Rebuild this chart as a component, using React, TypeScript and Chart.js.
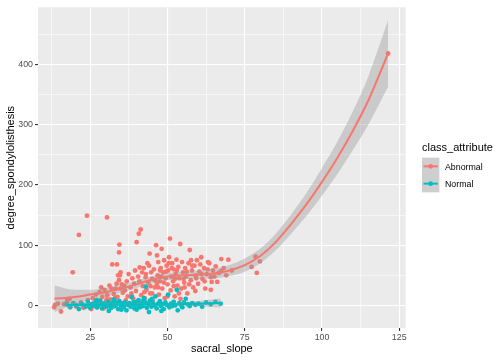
import React, { useEffect, useRef } from 'react';
import { Chart, registerables } from 'chart.js';
Chart.register(...registerables);

// sacral_slope, degree_spondylolisthesis
const abnormalPoints: [number, number][] = [
  [13.3, -3], [13.6, 1], [14.5, 3], [15.5, -10], [16.5, 2], [17.5, 8], [18.3, 11], [19.3, 55], [20.5, -2], [21.3, 117],
  [22, 5], [22.8, -4], [23.9, 149], [24.2, 9], [24.8, 2], [25.3, -6],
  [25.8, 12], [26.2, 4], [26.8, 18], [27.3, -3], [27.6, 8], [28, 22], [28.4, 3], [28.9, 14], [29.3, -5], [29.6, 26],
  [30, 6], [30.4, 146], [30.5, 17], [30.9, 2], [31.2, 33], [31.5, 10], [31.9, 28], [32.1, 68], [32.3, -2], [32.6, 19],
  [32.9, 7], [33.2, 28], [33.5, 36], [33.6, 68], [33.8, 14], [34, 50], [34.3, 88], [34.4, 101], [34.3, 42], [34.6, 50],
  [34.8, 28], [34.8, 55], [35.2, 35], [35.2, 4], [35.5, 21],
  [36.2, 25], [36.5, 9], [36.8, 40], [37.1, 15], [37.4, 52], [37.7, 3], [38, 30], [38.3, 20], [38.6, 45], [38.9, 11],
  [39.2, 36], [39.5, 58], [39.8, 24], [40, 105], [40.3, 6], [40.7, 119], [40.9, 40], [41.3, 126], [41.5, 17], [41.8, 55],
  [42, 32], [42.3, 62], [42.6, 12], [42.9, 47], [43.2, 26], [43.5, 70], [43.8, 38], [44.2, 86], [44.4, 20], [44.7, 55],
  [45, 44], [45.2, 8],
  [45.6, 60], [45.9, 30], [46.3, 100], [46.6, 83], [46.8, 50], [47, 72], [47.2, 18], [47.5, 40], [47.8, 62], [48.1, 94],
  [48.3, 28], [48.6, 55], [48.9, 75], [49.1, 12], [49.4, 45], [49.7, 66], [50, 35], [50.2, 58], [50.5, 80], [50.8, 111],
  [51, 25], [51.2, 48], [51.5, 70], [51.8, 40], [52, 60], [52.3, 15], [52.6, 52], [52.9, 76], [53.2, 33], [53.5, 64],
  [53.8, 45], [54.1, 102], [54.2, 11], [54.4, 28], [54.7, 72], [55, 55],
  [55.4, 38], [55.7, 62], [56, 48], [56.4, 20], [56.8, 70], [57.2, 92], [57.5, 42], [57.9, 58], [58.3, 30], [58.7, 66],
  [59.1, 50], [59.5, 75], [59.9, 36], [60.3, 56], [60.9, 80], [61.3, 44], [61.8, 62], [62.2, 28], [62.7, 52], [63.1, 72],
  [63.5, 70], [64, 26], [64.3, 39], [64.7, 58], [65.2, 48], [65.6, 65], [66.1, 39], [66.6, 54], [67.4, 57], [67.4, 77],
  [68.2, 62], [69, 50], [69.7, 76], [70.8, 58],
  [77.2, 64], [78.5, 81], [78.9, 54], [79.9, 73], [121.4, 418],
  [40.5, 48], [41, 63], [43, 52], [44, 66], [46, 42], [46.5, 36], [47.6, 58], [48, 48], [48.8, 38], [49.5, 56],
  [50.4, 70], [51.4, 62], [52.4, 44], [53, 58], [53.7, 20], [55.2, 44], [56.2, 56], [57, 35], [58, 66], [59.3, 45],
  [60.6, 68], [61, 52], [62, 40], [63, 60], [64, 47], [45, 20], [38.5, 15], [36, 33], [33, 12], [30.3, 10],
  [28.5, 30], [26.5, 0], [42.5, 22], [50, 15], [55.5, 30], [59, 24], [44.5, 32], [47, 30], [52, 32], [57.6, 75],
];

const normalPoints: [number, number][] = [
  [17.4, 2], [18.5, -3], [19.5, 4], [20.5, 0], [21.3, -6], [22, 3], [22.8, 1], [23.5, -2], [24.2, 6], [24.9, -4],
  [25.5, 2], [26, -1], [26.6, 5], [27.1, -3], [27.7, 1], [28.2, 8], [28.8, -5], [29.3, 3], [29.8, 0], [30.3, -2],
  [30.8, 6], [31.3, 1], [31.8, -4], [32.2, 4], [32.7, 10], [33.1, -1], [33.6, 2], [34, -6], [34.4, 7], [34.9, 0],
  [35.3, 3], [35.8, -3], [36.2, 5], [36.7, -8], [37.1, 1], [37.6, 4], [38, -2], [38.4, 14], [38.9, 2], [39.3, -5],
  [39.8, 6], [40.2, 0], [40.6, 9], [41.1, -3], [41.5, 3], [42, -1], [42.4, 12], [42.9, 5], [43, 31], [43.3, -4],
  [43.8, 2], [44, -11], [44.3, 8], [44.8, -2], [45.2, 4], [45.7, 0], [46.1, 15], [46.5, -5], [47, 3], [47.5, 7],
  [47.9, -1], [48.4, 2], [48.8, -6], [49.3, 5], [49.7, 1], [50.2, 18], [50.6, -3], [51.1, 3], [51.5, -1], [52, 6],
  [52.5, 0], [53, 26], [53.3, -8], [53.8, 4], [54.3, 1], [54.8, -3], [55.3, 5], [55.9, 11], [56.5, 2], [57.2, -1],
  [58, 4], [59, 1], [60, 3], [61.2, -2], [62.5, 5], [64, 2], [65.5, 6], [67.2, 3], [31, -9], [35, -7],
  [27, 9], [40, -7], [45, 11], [48, -9], [39, 5], [33, 5], [42, 7], [36, 1], [29, 2], [46, 1],
];

// loess smooth
const abnormalSmoothX = [13.4, 20, 25, 30, 35, 40, 45, 50, 55, 60, 65, 70, 75, 80, 85, 90, 95, 100, 105, 110, 115, 121.4];
const abnormalSmoothY = [11, 14, 18, 22, 28, 35, 43, 48, 50, 51, 53, 58, 67, 82, 105, 135, 168, 205, 245, 290, 340, 418];
const abnormalSmoothSE = [22, 12, 8, 7, 6, 6, 6, 6, 6, 7, 8, 9, 11, 12, 14, 16, 19, 23, 27, 32, 40, 55];

const normalSmoothX = [17.4, 20, 25, 30, 35, 40, 45, 50, 55, 60, 67.2];
const normalSmoothY = [0.5, 0.8, 1, 1.5, 1.5, 1.6, 1.8, 2, 2.5, 3, 4];
const normalSmoothSE = [6, 4.5, 3, 2.5, 2.2, 2.2, 2.2, 2.5, 3, 4.5, 7.5];

const xMajorTicks = [25, 50, 75, 100, 125];
const xMinorTicks = [12.5, 37.5, 62.5, 87.5, 112.5];
const yMajorTicks = [0, 100, 200, 300, 400];
const yMinorTicks = [50, 150, 250, 350, 450];

const RED = '#F8766D';
const TEAL = '#00BFC4';
const BAND = 'rgba(153,153,153,0.4)';
const FONT = '"Liberation Sans", Arial, Helvetica, sans-serif';

const toXY = (xs: number[], ys: number[]) => xs.map((x, i) => ({ x, y: ys[i] }));

export default function App() {
  const ref = useRef<HTMLCanvasElement>(null);
  useEffect(() => {
    if (!ref.current) return;
    const bgPlugin = {
      id: 'ggbg',
      beforeDraw(chart: any) {
        const { ctx, chartArea: a } = chart;
        ctx.save();
        ctx.fillStyle = '#FFFFFF';
        ctx.fillRect(0, 0, chart.width, chart.height);
        ctx.fillStyle = '#EBEBEB';
        ctx.fillRect(a.left, a.top, a.right - a.left, a.bottom - a.top);
        ctx.restore();
      },
      afterDraw(chart: any) {
        const { ctx, chartArea: a } = chart;
        ctx.save();
        ctx.fillStyle = '#000000';
        ctx.font = `11px ${FONT}`;
        ctx.textAlign = 'center';
        ctx.textBaseline = 'middle';
        ctx.fillText('sacral_slope', (a.left + a.right) / 2, 349);
        ctx.save();
        ctx.translate(10.5, (a.top + a.bottom) / 2);
        ctx.rotate(-Math.PI / 2);
        ctx.fillText('degree_spondylolisthesis', 0, 0);
        ctx.restore();
        // legend
        ctx.textAlign = 'left';
        ctx.textBaseline = 'alphabetic';
        ctx.fillText('class_attribute', 422, 150.5);
        const keys = [
          { label: 'Abnormal', color: RED },
          { label: 'Normal', color: TEAL },
        ];
        const kx = 422, ky = 157.7, ks = 17.3;
        keys.forEach((k, i) => {
          const y0 = ky + i * ks;
          ctx.fillStyle = '#F2F2F2';
          ctx.fillRect(kx, y0, ks, ks);
          ctx.fillStyle = BAND;
          ctx.fillRect(kx, y0, ks, ks);
          ctx.strokeStyle = k.color;
          ctx.lineWidth = 2;
          ctx.beginPath();
          ctx.moveTo(kx + 1.5, y0 + ks / 2);
          ctx.lineTo(kx + ks - 1.5, y0 + ks / 2);
          ctx.stroke();
          ctx.fillStyle = k.color;
          ctx.beginPath();
          ctx.arc(kx + ks / 2, y0 + ks / 2, 2.3, 0, Math.PI * 2);
          ctx.fill();
          ctx.fillStyle = '#000000';
          ctx.font = `8.8px ${FONT}`;
          ctx.fillText(k.label, 445, y0 + ks / 2 + 3.2);
        });
        ctx.restore();
      },
    };

    const gridWidth = (majors: number[]) => (c: any) =>
      c.tick && majors.includes(c.tick.value) ? 1.1 : 0.55;
    const tickCol = (majors: number[]) => (c: any) =>
      c.tick && majors.includes(c.tick.value) ? '#333333' : 'rgba(0,0,0,0)';

    const chart = new Chart(ref.current, {
      type: 'scatter',
      data: {
        datasets: [
          {
            type: 'line',
            label: 'abn hi',
            data: toXY(abnormalSmoothX, abnormalSmoothY.map((v, i) => v + abnormalSmoothSE[i])),
            borderWidth: 0,
            pointRadius: 0,
            backgroundColor: BAND,
            fill: 1,
            cubicInterpolationMode: 'monotone',
            order: 5,
          },
          {
            type: 'line',
            label: 'abn lo',
            data: toXY(abnormalSmoothX, abnormalSmoothY.map((v, i) => v - abnormalSmoothSE[i])),
            borderWidth: 0,
            pointRadius: 0,
            fill: false,
            cubicInterpolationMode: 'monotone',
            order: 5,
          },
          {
            type: 'line',
            label: 'nor hi',
            data: toXY(normalSmoothX, normalSmoothY.map((v, i) => v + normalSmoothSE[i])),
            borderWidth: 0,
            pointRadius: 0,
            backgroundColor: BAND,
            fill: 3,
            cubicInterpolationMode: 'monotone',
            order: 5,
          },
          {
            type: 'line',
            label: 'nor lo',
            data: toXY(normalSmoothX, normalSmoothY.map((v, i) => v - normalSmoothSE[i])),
            borderWidth: 0,
            pointRadius: 0,
            fill: false,
            cubicInterpolationMode: 'monotone',
            order: 5,
          },
          {
            label: 'Abnormal',
            data: abnormalPoints.map(([x, y]) => ({ x, y })),
            backgroundColor: RED,
            borderWidth: 0,
            pointRadius: 2.4,
            order: 11,
          },
          {
            label: 'Normal',
            data: normalPoints.map(([x, y]) => ({ x, y })),
            backgroundColor: TEAL,
            borderWidth: 0,
            pointRadius: 2.4,
            order: 10,
          },
          {
            type: 'line',
            label: 'abn fit',
            data: toXY(abnormalSmoothX, abnormalSmoothY),
            borderColor: RED,
            borderWidth: 2,
            pointRadius: 0,
            fill: false,
            cubicInterpolationMode: 'monotone',
            order: 1,
          },
          {
            type: 'line',
            label: 'nor fit',
            data: toXY(normalSmoothX, normalSmoothY),
            borderColor: TEAL,
            borderWidth: 2,
            pointRadius: 0,
            fill: false,
            cubicInterpolationMode: 'monotone',
            order: 1,
          },
        ] as any,
      },
      options: {
        animation: false,
        responsive: false,
        devicePixelRatio: 1,
        layout: { padding: { left: 0, top: 5, right: 98.3, bottom: 0 } },
        plugins: { legend: { display: false }, tooltip: { enabled: false } },
        scales: {
          x: {
            type: 'linear',
            min: 8.07,
            max: 127.1,
            border: { display: false },
            afterFit: (s: any) => { s.height = 32; },
            afterBuildTicks: (s: any) => {
              s.ticks = [...xMajorTicks, ...xMinorTicks].sort((a, b) => a - b).map((v) => ({ value: v }));
            },
            grid: {
              color: '#FFFFFF',
              lineWidth: gridWidth(xMajorTicks),
              tickColor: tickCol(xMajorTicks),
              tickWidth: 1.1,
              tickLength: 3,
              drawTicks: true,
            },
            ticks: {
              autoSkip: false,
              maxRotation: 0,
              padding: 1.5,
              color: '#4D4D4D',
              font: { family: FONT, size: 8.8 },
              callback: (v: any) => (xMajorTicks.includes(Number(v)) ? String(v) : ''),
            },
          },
          y: {
            type: 'linear',
            min: -37.4,
            max: 494.7,
            border: { display: false },
            afterFit: (s: any) => { s.width = 38; },
            afterBuildTicks: (s: any) => {
              s.ticks = [...yMajorTicks, ...yMinorTicks].sort((a, b) => a - b).map((v) => ({ value: v }));
            },
            grid: {
              color: '#FFFFFF',
              lineWidth: gridWidth(yMajorTicks),
              tickColor: tickCol(yMajorTicks),
              tickWidth: 1.1,
              tickLength: 3,
              drawTicks: true,
            },
            ticks: {
              autoSkip: false,
              padding: 2,
              color: '#4D4D4D',
              font: { family: FONT, size: 8.8 },
              callback: (v: any) => (yMajorTicks.includes(Number(v)) ? String(v) : ''),
            },
          },
        },
      },
      plugins: [bgPlugin],
    } as any);
    return () => chart.destroy();
  }, []);
  return (
    <div style={{ position: 'absolute', left: 0, top: 0, width: 504, height: 360 }}>
      <canvas ref={ref} width={504} height={360} style={{ display: 'block', width: 504, height: 360 }} />
    </div>
  );
}
